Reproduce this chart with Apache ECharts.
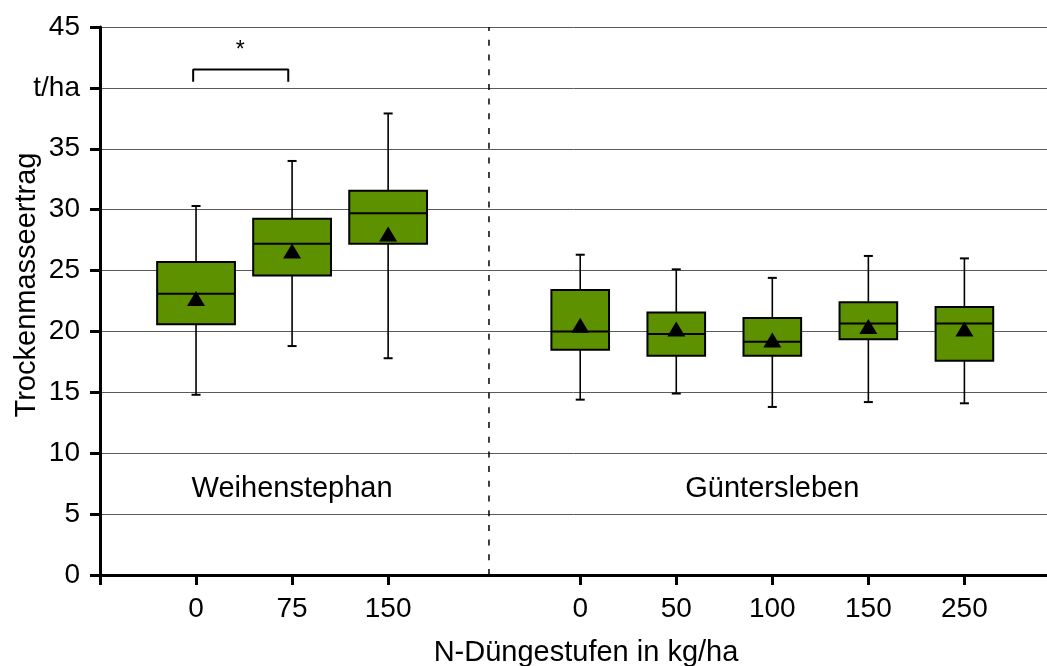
<!DOCTYPE html>
<html><head><meta charset="utf-8">
<script src="https://cdn.jsdelivr.net/npm/echarts@6/dist/echarts.min.js"></script>
<style>html,body{margin:0;padding:0;background:#fff}#c{width:1047px;height:666px}</style>
</head><body><div id="c"></div>
<script>
// ---- data ----
const positions   = [1, 2, 3, 5, 6, 7, 8, 9];
const doseLabels  = ['0', '75', '150', '0', '50', '100', '150', '250'];
const whiskerLow  = [14.8, 18.8, 17.8, 14.4, 14.9, 13.8, 14.2, 14.1];
const q1          = [20.6, 24.6, 27.2, 18.5, 18.0, 18.0, 19.35, 17.6];
const median      = [23.1, 27.2, 29.7, 20.0, 19.8, 19.15, 20.65, 20.65];
const q3          = [25.7, 29.25, 31.55, 23.4, 21.55, 21.1, 22.4, 22.0];
const whiskerHigh = [30.3, 34.0, 37.9, 26.3, 25.1, 24.4, 26.2, 26.0];
const means       = [22.7, 26.6, 28.0, 20.5, 20.2, 19.3, 20.4, 20.2];
const siteNames   = ['Weihenstephan', 'Güntersleben'];
const siteCenters = [2, 7];
const siteLabelY  = 7.1;
const separatorX  = 4.05;
const bracket     = [[0.97, 40.5], [0.97, 41.5], [1.96, 41.5], [1.96, 40.5]];
const starPoint   = [1.46, 43.05];
const xTickValues = [0, 1, 2, 3, 5, 6, 7, 8, 9];

// ---- style ----
const FONT = "'Liberation Sans', Arial, sans-serif";
const GREEN = '#5e9100';
const boxWidthFor = x => (x < separatorX ? 0.81 : 0.60);

const chart = echarts.init(document.getElementById('c'), null, {renderer: 'canvas'});
const boxData = positions.map((p, i) => [p, whiskerLow[i], q1[i], median[i], q3[i], whiskerHigh[i]]);

chart.setOption({
  animation: false,
  backgroundColor: '#fff',
  grid: {left: 100, right: 0, top: 27, bottom: 91, containLabel: false},
  xAxis: [{
    type: 'value', min: 0, max: 9.86,
    axisLine: {show: true, onZero: false, lineStyle: {color: '#000', width: 3}},
    axisTick: {show: true, customValues: xTickValues, length: 10, lineStyle: {color: '#000', width: 3}},
    axisLabel: {
      customValues: positions, margin: 20,
      fontFamily: FONT, fontSize: 28, color: '#000',
      formatter: v => { const i = positions.indexOf(v); return i >= 0 ? doseLabels[i] : ''; }
    },
    splitLine: {show: false}
  }, {
    type: 'value', min: 0, max: 9.86, position: 'top',
    axisLine: {show: true, lineStyle: {color: '#000', width: 3}},
    axisTick: {show: false}, axisLabel: {show: false}, splitLine: {show: false}
  }],
  yAxis: {
    type: 'value', min: 0, max: 45, interval: 5,
    axisLine: {show: true, lineStyle: {color: '#000', width: 3}},
    axisTick: {show: true, length: 10, lineStyle: {color: '#000', width: 3}},
    axisLabel: {
      margin: 20, fontFamily: FONT, fontSize: 28, color: '#000',
      formatter: v => (v === 40 ? 't/ha' : String(v))
    },
    splitLine: {show: true, lineStyle: {color: '#5a5a5a', width: 1}}
  },
  graphic: [
    {type: 'text', x: 27, y: 285, rotation: Math.PI / 2,
     style: {text: 'Trockenmasseertrag', fontFamily: FONT, fontSize: 29, fill: '#000', align: 'center', verticalAlign: 'middle'}},
    {type: 'text', x: 586, y: 653,
     style: {text: 'N-Düngestufen in kg/ha', fontFamily: FONT, fontSize: 29, fill: '#000', align: 'center', verticalAlign: 'middle'}}
  ],
  series: [
    {
      type: 'line', data: [[separatorX, 0], [separatorX, 45]], symbol: 'none', silent: true,
      lineStyle: {color: '#000', width: 1.5, type: [6, 8.7]}, z: 3
    },
    {
      type: 'custom', data: boxData, z: 5,
      renderItem(params, api) {
        const x = api.value(0);
        const lo = api.coord([x, api.value(1)]);
        const a = api.coord([x, api.value(2)]);
        const m = api.coord([x, api.value(3)]);
        const b = api.coord([x, api.value(4)]);
        const hi = api.coord([x, api.value(5)]);
        const half = api.size([boxWidthFor(x), 0])[0] / 2;
        const cx = lo[0], cap = 4.5;
        const ls = {stroke: '#000', lineWidth: 1.6};
        return {type: 'group', children: [
          {type: 'line', shape: {x1: cx, y1: lo[1], x2: cx, y2: a[1]}, style: ls},
          {type: 'line', shape: {x1: cx, y1: b[1], x2: cx, y2: hi[1]}, style: ls},
          {type: 'line', shape: {x1: cx - cap, y1: lo[1], x2: cx + cap, y2: lo[1]}, style: {stroke: '#000', lineWidth: 2}},
          {type: 'line', shape: {x1: cx - cap, y1: hi[1], x2: cx + cap, y2: hi[1]}, style: {stroke: '#000', lineWidth: 2}},
          {type: 'rect', shape: {x: cx - half, y: b[1], width: 2 * half, height: a[1] - b[1]},
           style: {fill: GREEN, stroke: '#000', lineWidth: 2}},
          {type: 'line', shape: {x1: cx - half, y1: m[1], x2: cx + half, y2: m[1]}, style: {stroke: '#000', lineWidth: 2}}
        ]};
      }
    },
    {
      type: 'scatter', data: positions.map((p, i) => [p, means[i]]), z: 6,
      symbol: 'triangle', symbolSize: [18, 15], itemStyle: {color: '#000', opacity: 1}
    },
    {
      type: 'line', data: bracket, symbol: 'none', lineStyle: {color: '#000', width: 2}, z: 4
    },
    {
      type: 'scatter', data: [starPoint], symbolSize: 0, z: 4, itemStyle: {opacity: 1},
      label: {show: true, position: 'inside', formatter: '*', fontFamily: FONT, fontSize: 23, color: '#000'}
    },
    {
      type: 'scatter', data: siteCenters.map((c, i) => [c, siteLabelY]), symbolSize: 0, z: 4, itemStyle: {opacity: 1},
      label: {show: true, position: 'inside', formatter: p => siteNames[p.dataIndex], fontFamily: FONT, fontSize: 29, color: '#000'}
    }
  ]
});
</script>
</body></html>
